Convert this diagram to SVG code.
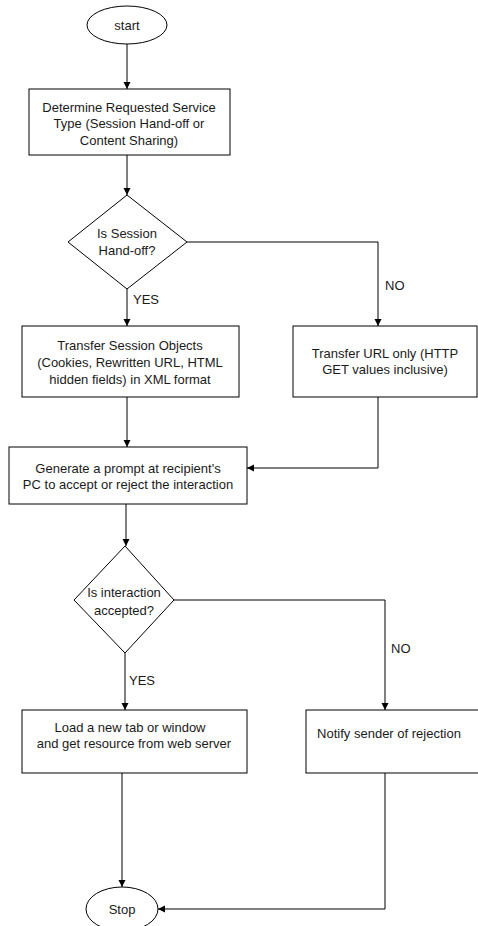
<svg xmlns="http://www.w3.org/2000/svg" width="478" height="926" viewBox="0 0 478 926">
<style>
.s{fill:#fff;stroke:#000;stroke-width:1}
.c{fill:none;stroke:#000;stroke-width:1}
text{font-family:"Liberation Sans",Arial,sans-serif;font-size:13px;fill:#1a1a1a;text-anchor:middle;dominant-baseline:central}
.l{text-anchor:start}
</style>
<defs>
<marker id="a" markerWidth="8" markerHeight="8" refX="7" refY="4" orient="auto" markerUnits="userSpaceOnUse">
<path d="M0,0.5 L7,4 L0,7.5 z" fill="#000"/>
</marker>
</defs>
<rect width="478" height="926" fill="#fff"/>
<g id="connectors">
<path class="c" d="M127,44 V89" marker-end="url(#a)"/>
<path class="c" d="M127,155 V195" marker-end="url(#a)"/>
<path class="c" d="M127,289 V326" marker-end="url(#a)"/>
<path class="c" d="M187,242 H378 V326" marker-end="url(#a)"/>
<path class="c" d="M127,397 V447" marker-end="url(#a)"/>
<path class="c" d="M378,397 V468 H247" marker-end="url(#a)"/>
<path class="c" d="M126,504 V546" marker-end="url(#a)"/>
<path class="c" d="M125,653 V710" marker-end="url(#a)"/>
<path class="c" d="M174,600 H385 V710" marker-end="url(#a)"/>
<path class="c" d="M122,773 V887" marker-end="url(#a)"/>
<path class="c" d="M385,773 V909 H158" marker-end="url(#a)"/>
<text class="l" x="133" y="299">YES</text>
<text class="l" x="385" y="285">NO</text>
<text class="l" x="129" y="680">YES</text>
<text class="l" x="391" y="648">NO</text>
</g>
<g id="start">
<ellipse class="s" cx="127" cy="25" rx="40" ry="19"/>
<text x="127" y="25">start</text>
</g>
<g id="determine">
<rect class="s" x="29" y="89" width="201" height="66"/>
<text x="129" y="107">Determine Requested Service</text>
<text x="129" y="123.5">Type (Session Hand-off or</text>
<text x="129" y="140">Content Sharing)</text>
</g>
<g id="isSession">
<polygon class="s" points="127,195 187,242 127,289 68,242"/>
<text x="127" y="233">Is Session</text>
<text x="127" y="250">Hand-off?</text>
</g>
<g id="transferSession">
<rect class="s" x="22" y="326" width="217" height="71"/>
<text x="130" y="345">Transfer Session Objects</text>
<text x="130" y="362">(Cookies, Rewritten URL, HTML</text>
<text x="130" y="379">hidden fields) in XML format</text>
</g>
<g id="transferURL">
<rect class="s" x="293" y="326" width="184" height="71"/>
<text x="385" y="353">Transfer URL only (HTTP</text>
<text x="385" y="369">GET values inclusive)</text>
</g>
<g id="prompt">
<rect class="s" x="9" y="447" width="238" height="57"/>
<text x="128" y="468">Generate a prompt at recipient's</text>
<text x="128" y="484">PC to accept or reject the interaction</text>
</g>
<g id="isAccepted">
<polygon class="s" points="125,546 174,600 125,653 74,600"/>
<text x="124" y="592">Is interaction</text>
<text x="124" y="610">accepted?</text>
</g>
<g id="load">
<rect class="s" x="22" y="710" width="225" height="63"/>
<text x="130" y="727">Load a new tab or window</text>
<text x="134" y="743">and get resource from web server</text>
</g>
<g id="notify">
<rect class="s" x="306" y="710" width="180" height="63"/>
<text x="389" y="733">Notify sender of rejection</text>
</g>
<g id="stop">
<ellipse class="s" cx="122" cy="909" rx="36" ry="22"/>
<text x="122" y="909">Stop</text>
</g>
</svg>
